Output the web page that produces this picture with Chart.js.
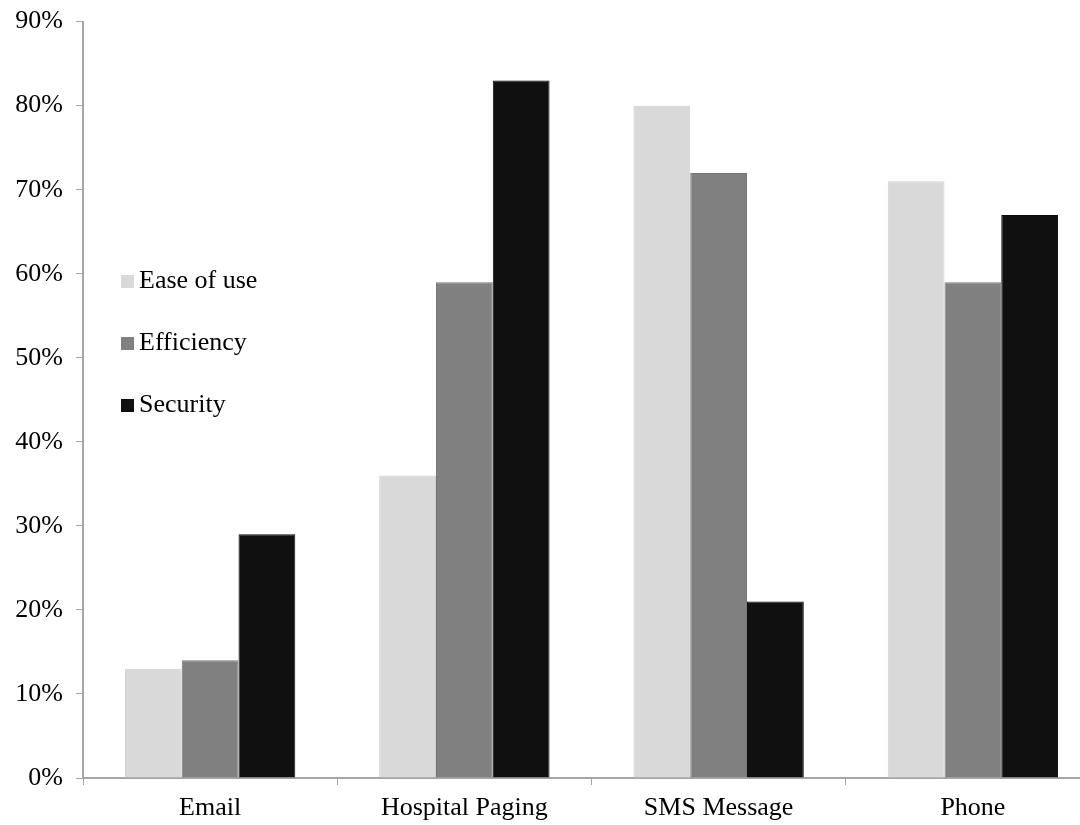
<!DOCTYPE html>
<html>
<head>
<meta charset="utf-8">
<script src="https://cdn.jsdelivr.net/npm/chart.js@4/dist/chart.umd.min.js"></script>
<style>
  html, body { margin: 0; padding: 0; background: #fff; overflow: hidden; }
  #wrap { width: 1100px; height: 832px; position: relative; top: -7px; }
</style>
</head>
<body>
<div id="wrap"><canvas id="chart"></canvas></div>
<script>
const categories = ['Email', 'Hospital Paging', 'SMS Message', 'Phone'];
const easeOfUse = [13, 36, 80, 71];
const efficiency = [14, 59, 72, 59];
const security = [29, 83, 21, 67];
const seriesNames = ['Ease of use', 'Efficiency', 'Security'];
const seriesColors = ['#d9d9d9', '#808080', '#101010'];

const axisGray = '#a6a6a6';
const serif = "'Liberation Serif', 'Times New Roman', serif";
const fontSize = 26;

// legend drawn inside the plot area, left side
const innerLegend = {
    id: 'innerLegend',
    afterDraw(chart) {
        const ctx = chart.ctx;
        ctx.save();
        ctx.font = fontSize + 'px ' + serif;
        ctx.textBaseline = 'middle';
        chart.data.datasets.forEach((ds, i) => {
            const y = 288 + i * 62;
            ctx.fillStyle = ds.backgroundColor;
            ctx.fillRect(121, y - 6, 13, 13);
            ctx.fillStyle = '#000';
            ctx.fillText(ds.label, 139, y);
        });
        ctx.restore();
    }
};

const ctx = document.getElementById('chart').getContext('2d');
new Chart(ctx, {
    type: 'bar',
    data: {
        labels: categories,
        datasets: [easeOfUse, efficiency, security].map((d, i) => ({
            label: seriesNames[i],
            data: d,
            backgroundColor: seriesColors[i],
            borderColor: i === 0 ? '#cfcfcf' : (i === 1 ? '#777' : '#0a0a0a'),
            borderWidth: 1,
            barPercentage: 1,
            categoryPercentage: 0.67
        }))
    },
    options: {
        responsive: true,
        maintainAspectRatio: false,
        animation: false,
        layout: { padding: { top: 7, right: 0, left: 0, bottom: 0 } },
        plugins: {
            legend: { display: false },
            tooltip: { enabled: false }
        },
        scales: {
            x: {
                grid: {
                    drawOnChartArea: false,
                    drawTicks: true,
                    tickLength: 7,
                    color: axisGray
                },
                border: { color: axisGray, width: 2 },
                ticks: {
                    color: '#000',
                    font: { family: serif, size: fontSize },
                    padding: 8
                },
                afterFit(scale) { scale.height = 47; }
            },
            y: {
                min: 0,
                max: 90,
                grid: {
                    drawOnChartArea: false,
                    drawTicks: true,
                    tickLength: 7,
                    color: axisGray
                },
                border: { color: axisGray, width: 2 },
                ticks: {
                    stepSize: 10,
                    color: '#000',
                    font: { family: serif, size: fontSize },
                    padding: 13,
                    callback: v => v + '%'
                },
                afterFit(scale) { scale.width = 83; }
            }
        }
    },
    plugins: [innerLegend]
});
</script>
</body>
</html>
